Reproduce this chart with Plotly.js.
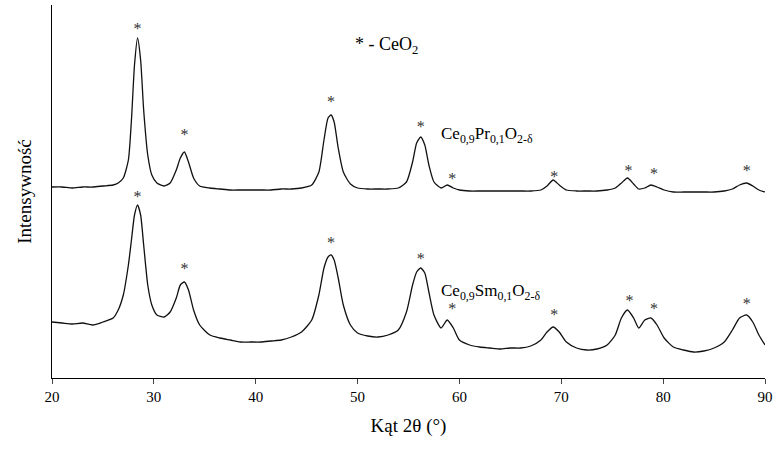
<!DOCTYPE html>
<html><head><meta charset="utf-8">
<script src="https://cdn.plot.ly/plotly-3.0.1.min.js"></script>
<style>body{margin:0;background:#fff}</style></head>
<body><div id="plot" style="width:779px;height:465px"></div>
<script>
// 2θ positions (deg)
const twoTheta = [20,21,22,23,24,25,26,26.5,27,27.5,27.8,28.1,28.4,28.7,29,29.4,29.8,30.3,31,31.6,32.2,32.6,33,33.4,33.9,34.5,35.5,36.5,37.5,38.5,39.5,40.5,41.5,42.5,43.5,44.5,45.5,46.2,46.7,47.1,47.4,47.7,48.1,48.6,49.3,50,51,52,53,54,54.8,55.4,55.8,56.2,56.6,57,57.5,58.2,58.8,59.4,60,61,62,63,64,65,66,67,68,68.6,69.2,69.8,70.5,71.5,72.5,73.5,74.5,75.3,75.9,76.5,77.1,77.6,78.2,78.8,79.4,80.1,81,82,83,84,85,86,86.8,87.5,88.2,88.8,89.4,90];
// intensities (arbitrary units)
const prIntensity = [191,191,190,191,191,192,193,195,200,218,258,313,340,318,268,223,203,195,192,195,208,220,226,216,200,192,190,189,188,188,188,188,188,189,189,190,193,206,238,260,263,256,230,206,194,190,189,189,189,190,196,216,235,241,233,213,196,190,193,190,188,187,187,187,187,187,187,187,188,192,198,193,188,187,187,187,188,190,195,200,194,189,190,193,191,188,186,186,186,186,186,187,189,193,195,192,188,186];
const smIntensity = [56,55,54,55,53,56,60,68,83,113,138,163,173,163,133,93,73,63,61,66,80,93,96,88,68,53,43,40,38,36,36,36,37,38,41,46,58,83,110,121,123,118,100,73,53,45,42,41,43,48,66,93,106,110,105,86,63,50,58,50,38,33,31,30,29,30,30,32,38,46,51,46,36,30,28,29,33,43,60,68,60,50,58,60,53,40,31,28,26,27,30,36,48,60,63,56,43,33];
const peakPr = [28.4,33,47.4,56.2,59.3,69.3,76.6,79.1,88.2];
const starPr = [348,242,275,250,198,200,206,203,206];
const peakSm = [28.4,33,47.4,56.2,59.3,69.3,76.7,79.1,88.2];
const starSm = [180,108,134,118,68,62,76,68,73];

const serif = "Liberation Serif, Times New Roman, serif";
const lineStyle = { color: "#111", width: 1.3, shape: "spline", smoothing: 0.6 };
const data = [
	{ x: twoTheta, y: prIntensity, type: "scatter", mode: "lines", line: lineStyle },
	{ x: twoTheta, y: smIntensity, type: "scatter", mode: "lines", line: lineStyle },
	{ x: peakPr.concat(peakSm), y: starPr.concat(starSm), type: "scatter", mode: "text",
	  text: peakPr.concat(peakSm).map(() => "*"), textfont: { family: serif, size: 16, color: "#333" } },
];
const layout = {
	width: 779, height: 465, showlegend: false,
	margin: { l: 52, r: 14, t: 5, b: 87 },
	paper_bgcolor: "#fff", plot_bgcolor: "#fff",
	xaxis: {
		range: [20, 90], dtick: 10, showgrid: false, zeroline: false,
		showline: true, linecolor: "#000", linewidth: 1, ticks: "outside", ticklen: 5,
		tickfont: { family: serif, size: 15, color: "#000" },
		title: { text: "Kąt 2θ (°)", font: { family: serif, size: 19, color: "#000" }, standoff: 14 },
	},
	yaxis: {
		range: [0, 373], showgrid: false, zeroline: false, showticklabels: false,
		showline: true, linecolor: "#000", linewidth: 1, ticks: "",
		title: { text: "Intensywność", font: { family: serif, size: 19, color: "#000" }, standoff: 14 },
	},
	annotations: [
		{ x: 52.8, y: 333, xref: "x", yref: "y", showarrow: false, xanchor: "center",
		  text: "* - CeO<sub>2</sub>", font: { family: serif, size: 18, color: "#000" } },
		{ x: 58, y: 243, xref: "x", yref: "y", showarrow: false, xanchor: "left",
		  text: "Ce<sub>0,9</sub>Pr<sub>0,1</sub>O<sub>2-δ</sub>", font: { family: serif, size: 17, color: "#000" } },
		{ x: 58, y: 86, xref: "x", yref: "y", showarrow: false, xanchor: "left",
		  text: "Ce<sub>0,9</sub>Sm<sub>0,1</sub>O<sub>2-δ</sub>", font: { family: serif, size: 17, color: "#000" } },
	],
};
Plotly.newPlot("plot", data, layout, { displayModeBar: false, staticPlot: true });
</script></body></html>
